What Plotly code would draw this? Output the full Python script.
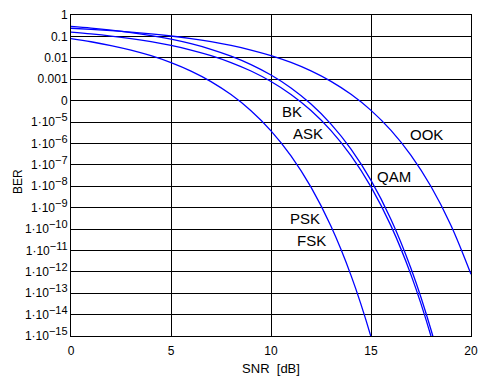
import math
import plotly.graph_objects as go

# SNR in dB
snr_a = list(range(0, 21))
snr_b = list(range(0, 20))
snr_d = list(range(0, 17))

# OOK (top-right curve)
ber_ook = [0.2398, 0.2138, 0.1867, 0.1590, 0.1312, 0.1043, 0.0791, 0.0567, 0.0379, 0.0231,
           0.01267, 0.00605, 0.00244, 7.93e-4, 1.97e-4, 3.50e-5, 4.07e-6, 2.78e-7, 9.7e-9,
           1.47e-10, 7.7e-13]
# ASK / BK (middle pair, lower)
ber_ask = [0.1587, 0.1309, 0.1040, 0.0789, 0.0565, 0.0377, 0.0230, 0.0126, 0.0060, 0.00241,
           7.83e-4, 1.94e-4, 3.43e-5, 3.97e-6, 2.69e-7, 9.36e-9, 1.40e-10, 7.2e-13, 9.8e-16,
           2.5e-19]
# QAM (middle pair, upper)
ber_qam = [0.2922, 0.2447, 0.1972, 0.1516, 0.1098, 0.0740, 0.0455, 0.0250, 0.01196, 0.00482,
           1.566e-3, 3.88e-4, 6.86e-5, 7.94e-6, 5.38e-7, 1.87e-8, 2.80e-10, 1.44e-12, 1.97e-15,
           5.0e-19]
# PSK / FSK (left curve)
ber_psk = [0.0786, 0.0563, 0.0375, 0.0229, 0.0125, 0.00595, 0.00239, 7.73e-4, 1.91e-4, 3.36e-5,
           3.87e-6, 2.61e-7, 9.0e-9, 1.33e-10, 6.8e-13, 9.1e-16, 2.3e-19]

y_tickvals = [1, 0.1, 0.01, 0.001, 1e-4] + [10.0 ** (-k) for k in range(5, 16)]
y_ticktext = ["1", "0.1", "0.01", "0.001", "0"] + [
    "1\u00b710<sup><span style=\"font-size:11px\">\u2212%d</span></sup>" % k for k in range(5, 16)]
x_tickvals = [0, 5, 10, 15, 20]

labels = ["BK", "ASK", "OOK", "QAM", "PSK", "FSK"]
label_x = [11.04, 11.84, 17.76, 16.16, 11.72, 12.04]
label_y = [10 ** -4.53, 10 ** -5.53, 10 ** -5.58, 10 ** -7.54, 10 ** -9.51, 10 ** -10.54]

blue = "#0000ff"
fig = go.Figure()
for xs, ys in [(snr_a, ber_ook), (snr_b, ber_qam), (snr_b, ber_ask), (snr_d, ber_psk)]:
    fig.add_trace(go.Scatter(x=xs, y=ys, mode="lines",
                             line=dict(color=blue, width=1.3, shape="spline", smoothing=1),
                             showlegend=False, hoverinfo="skip"))

for t, lx, ly in zip(labels, label_x, label_y):
    fig.add_annotation(x=lx, y=math.log10(ly), text=t, showarrow=False,
                       font=dict(size=15, color="black"))

fig.add_annotation(x=-0.1325, y=0.48, xref="paper", yref="paper", xanchor="center",
                   yanchor="middle", text="BER", textangle=-90,
                   showarrow=False, font=dict(size=12, color="black"))

fig.update_layout(
    width=490, height=383,
    margin=dict(l=71, r=19, t=8, b=47),
    paper_bgcolor="white", plot_bgcolor="white",
    font=dict(family="Liberation Sans, Arial, sans-serif", size=12, color="black"),
    xaxis=dict(range=[0, 20], tickvals=x_tickvals, showgrid=True, gridcolor="black", gridwidth=1,
               showline=True, linecolor="black", linewidth=1, mirror=True, ticks="", zeroline=False,
               ticklabelstandoff=4,
               title=dict(text="SNR\u00a0\u00a0[dB]", font=dict(size=13), standoff=6)),
    yaxis=dict(type="log", range=[-15, 0], tickvals=y_tickvals, ticktext=y_ticktext,
               showgrid=True, gridcolor="black", gridwidth=1,
               showline=True, linecolor="black", linewidth=1, mirror=True, ticks="", zeroline=False),
)

fig.write_html("out.html", config={"displayModeBar": False},
               post_script="document.body.style.margin='0';")
